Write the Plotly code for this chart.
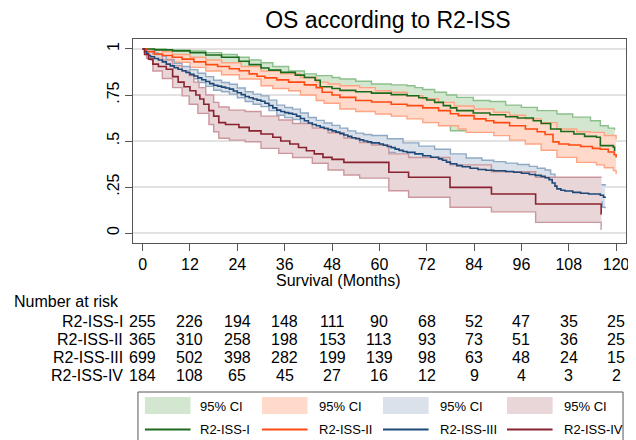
import plotly.graph_objects as go

# ---------------- data ----------------
months = [0, 12, 24, 36, 48, 60, 72, 84, 96, 108, 120]
groups = ["R2-ISS-I", "R2-ISS-II", "R2-ISS-III", "R2-ISS-IV"]

risk_I = [255, 226, 194, 148, 111, 90, 68, 52, 47, 35, 25]
risk_II = [365, 310, 258, 198, 153, 113, 93, 73, 51, 36, 25]
risk_III = [699, 502, 398, 282, 199, 139, 98, 63, 48, 24, 15]
risk_IV = [184, 108, 65, 45, 27, 16, 12, 9, 4, 3, 2]

# R2-ISS-I
t_I = [0, 3, 7.6, 12, 16, 20, 24.4, 27, 30, 32, 35, 38.7, 41, 43.7, 45, 48, 50, 54, 58, 63, 67, 70, 72, 74, 76.2,
       78, 79.6, 83.8, 88, 92, 95, 99, 101, 103.4, 106, 109.3, 112, 115, 116, 119.3, 119.6]
s_I = [1, 0.995, 0.99, 0.98, 0.967, 0.955, 0.933, 0.915, 0.897, 0.885, 0.873, 0.858, 0.845, 0.83, 0.795, 0.785,
       0.775, 0.768, 0.76, 0.752, 0.746, 0.735, 0.723, 0.71, 0.692, 0.68, 0.665, 0.652, 0.643, 0.632, 0.625, 0.61,
       0.595, 0.565, 0.552, 0.538, 0.525, 0.52, 0.475, 0.466, 0.445]
hi_t_I = [0, 6, 12, 16, 20, 24, 27, 30, 33, 37, 41, 44, 48, 50, 54, 58, 63, 67, 69, 71, 74, 77, 79.6, 83.8, 88, 92,
          96, 100, 105, 109, 113.5, 116, 118, 119.6]
hi_I = [1, 0.995, 0.99, 0.98, 0.97, 0.955, 0.94, 0.925, 0.905, 0.88, 0.865, 0.855, 0.845, 0.837, 0.825, 0.81, 0.805,
        0.8, 0.79, 0.78, 0.765, 0.75, 0.737, 0.72, 0.715, 0.695, 0.683, 0.665, 0.647, 0.63, 0.61, 0.583, 0.57, 0.56]
lo_t_I = [0, 3, 7.5, 12, 16, 20, 25, 30, 35, 40, 45, 50, 55, 60, 65, 70, 75, 78, 86, 90, 95, 100, 104, 108, 112,
          116, 119.6]
lo_I = [1, 0.985, 0.965, 0.95, 0.935, 0.92, 0.895, 0.86, 0.83, 0.8, 0.75, 0.73, 0.72, 0.705, 0.69, 0.66, 0.62, 0.556,
        0.548, 0.535, 0.515, 0.49, 0.47, 0.44, 0.42, 0.39, 0.37]

# R2-ISS-II
t_II = [0, 1, 3, 5, 7.5, 10, 13, 16, 19, 22, 24.5, 27, 29, 31, 34, 37, 41, 44, 45.5, 48, 50, 54, 58, 63, 67, 71, 75,
        78, 80, 84, 87, 89, 93, 97, 100, 102, 104, 105.5, 108, 111, 114, 116, 118, 119.5, 120]
s_II = [1, 0.985, 0.973, 0.965, 0.955, 0.945, 0.93, 0.915, 0.905, 0.893, 0.882, 0.865, 0.852, 0.843, 0.832, 0.82,
        0.805, 0.79, 0.765, 0.75, 0.737, 0.72, 0.712, 0.7, 0.692, 0.68, 0.665, 0.648, 0.638, 0.62, 0.61, 0.6, 0.583,
        0.565, 0.55, 0.535, 0.495, 0.484, 0.478, 0.47, 0.46, 0.455, 0.44, 0.425, 0.41]
hi_t_II = [0, 2, 5, 7.5, 12, 16, 20, 25, 30, 35, 40, 44, 47, 50, 55, 59, 63, 67, 71, 75, 79, 84, 89, 93, 97, 101,
           105, 110, 113.5, 117, 120]
hi_II = [1, 0.995, 0.985, 0.97, 0.955, 0.94, 0.925, 0.905, 0.88, 0.865, 0.845, 0.82, 0.81, 0.8, 0.79, 0.773, 0.765,
         0.746, 0.73, 0.71, 0.69, 0.674, 0.656, 0.64, 0.62, 0.6, 0.565, 0.55, 0.547, 0.53, 0.51]
lo_t_II = [0, 2, 5, 7.5, 12, 16, 20, 24.5, 30, 33, 37, 40, 44, 46, 50, 54, 59, 63, 67, 71, 75, 80, 82, 89, 93, 97,
           101, 105, 110, 115, 117, 119.3, 120]
lo_II = [1, 0.97, 0.945, 0.928, 0.9, 0.88, 0.86, 0.837, 0.8, 0.785, 0.773, 0.75, 0.72, 0.705, 0.674, 0.66, 0.647,
         0.635, 0.62, 0.6, 0.583, 0.565, 0.547, 0.529, 0.505, 0.484, 0.45, 0.411, 0.384, 0.37, 0.355, 0.339, 0.32]

# R2-ISS-III
t_III = [0, 0.5, 1, 1.5, 2, 3, 4, 5, 6, 7, 8, 9, 10, 11, 12, 13, 14, 15, 16, 17, 18, 19, 20, 21, 22, 23, 24, 25, 26,
         27, 28, 29, 30, 31, 32, 33, 34, 35, 36, 37, 38, 39, 40, 41, 42, 43, 44, 45, 46, 47, 48, 49, 50, 51, 52, 53,
         54, 55, 56, 57, 58, 60, 61, 62, 63, 64, 65, 66, 67, 69, 71, 73, 75, 76, 77, 78, 79.6, 81, 83, 85, 87, 89,
         92, 94, 96, 98, 99.5, 101, 102, 103, 103.8, 104.5, 105, 106, 107, 109, 111, 113, 116, 116.8, 117.2]
s_III = [1, 0.985, 0.975, 0.965, 0.958, 0.948, 0.94, 0.93, 0.918, 0.908, 0.898, 0.89, 0.882, 0.872, 0.862, 0.853,
         0.843, 0.833, 0.823, 0.812, 0.803, 0.798, 0.793, 0.788, 0.782, 0.772, 0.762, 0.752, 0.742, 0.735, 0.728,
         0.722, 0.716, 0.705, 0.693, 0.68, 0.668, 0.66, 0.654, 0.65, 0.645, 0.635, 0.622, 0.61, 0.598, 0.59, 0.583,
         0.575, 0.568, 0.562, 0.555, 0.548, 0.54, 0.533, 0.525, 0.518, 0.512, 0.506, 0.5, 0.495, 0.49, 0.484, 0.477,
         0.47, 0.464, 0.456, 0.449, 0.443, 0.438, 0.43, 0.42, 0.412, 0.403, 0.395, 0.385, 0.376, 0.366, 0.36, 0.352,
         0.345, 0.341, 0.338, 0.334, 0.33, 0.325, 0.318, 0.313, 0.308, 0.3, 0.29, 0.272, 0.255, 0.24, 0.232, 0.228,
         0.221, 0.216, 0.212, 0.205, 0.194, 0.19]
hi_t_III = [0, 1, 2, 4, 6, 8, 10, 12, 14, 16, 18, 20, 22, 24, 26, 28, 30, 32, 34, 36, 38, 40, 42, 44, 46, 48, 50,
            52, 54, 56, 58, 62, 66, 70, 74, 78, 82, 86, 89, 92, 95, 98, 100, 102, 103.4, 104.5, 108, 112, 117.2]
hi_III = [1, 0.99, 0.978, 0.962, 0.942, 0.922, 0.905, 0.888, 0.868, 0.85, 0.83, 0.818, 0.808, 0.788, 0.768, 0.755,
          0.745, 0.722, 0.695, 0.682, 0.673, 0.652, 0.628, 0.612, 0.598, 0.585, 0.57, 0.555, 0.543, 0.535, 0.53,
          0.512, 0.49, 0.472, 0.455, 0.43, 0.408, 0.395, 0.388, 0.38, 0.372, 0.362, 0.352, 0.342, 0.32, 0.29, 0.272,
          0.262, 0.255]
lo_t_III = [0, 1, 2, 4, 6, 8, 10, 12, 14, 16, 18, 20, 22, 24, 26, 28, 30, 32, 34, 36, 38, 40, 42, 44, 46, 48, 50,
            52, 54, 56, 58, 60, 62, 64, 66, 68, 70, 72, 74, 76, 78, 80, 82, 84, 86, 89, 92, 95, 98, 100, 102, 103.4,
            104.5, 108, 112, 116.5, 117.2]
lo_III = [1, 0.96, 0.94, 0.918, 0.895, 0.873, 0.858, 0.838, 0.818, 0.797, 0.776, 0.768, 0.755, 0.735, 0.715, 0.7,
          0.687, 0.665, 0.64, 0.627, 0.617, 0.593, 0.568, 0.553, 0.538, 0.525, 0.51, 0.495, 0.482, 0.47, 0.458,
          0.452, 0.438, 0.424, 0.41, 0.4, 0.39, 0.38, 0.372, 0.362, 0.345, 0.332, 0.322, 0.315, 0.308, 0.303, 0.298,
          0.29, 0.282, 0.275, 0.265, 0.25, 0.21, 0.185, 0.17, 0.14, 0.135]

# R2-ISS-IV
t_IV = [0, 0.5, 1.5, 2.6, 4, 6, 7.6, 9, 10.5, 12, 13.5, 14.5, 15.5, 16.8, 18, 19.3, 21, 24.4, 27, 30, 33, 35, 37.3,
        39.5, 41.5, 43.5, 45.7, 48, 51, 62.4, 67.4, 77.9, 88.4, 99.6, 116.2, 116.3]
s_IV = [1, 0.97, 0.945, 0.918, 0.905, 0.89, 0.85, 0.82, 0.795, 0.773, 0.75, 0.728, 0.7, 0.665, 0.635, 0.6, 0.59,
        0.574, 0.555, 0.538, 0.52, 0.5, 0.484, 0.465, 0.447, 0.43, 0.411, 0.4, 0.384, 0.33, 0.303, 0.248, 0.212,
        0.158, 0.103, 0.103]
hi_t_IV = [0, 1, 2.6, 5, 7.6, 10, 11.8, 13, 14.3, 16, 18, 19.3, 21.9, 26, 30, 34.5, 38, 43, 47, 51, 55, 58, 62.4,
           67.4, 77.9, 88.4, 99.6, 116.3]
hi_IV = [1, 0.995, 0.97, 0.94, 0.909, 0.88, 0.855, 0.82, 0.79, 0.75, 0.71, 0.685, 0.668, 0.66, 0.635, 0.614, 0.595,
         0.57, 0.545, 0.516, 0.492, 0.478, 0.43, 0.41, 0.37, 0.333, 0.303, 0.303]
lo_t_IV = [0, 1, 2.6, 5, 7.6, 10, 11.8, 14, 16.8, 18, 19.3, 22, 26, 30, 34.5, 38, 43, 47, 51, 55, 62.4, 67.4,
           77.9, 88.4, 99.6, 116.2, 116.3]
lo_IV = [1, 0.95, 0.88, 0.84, 0.79, 0.745, 0.7, 0.65, 0.59, 0.55, 0.515, 0.505, 0.496, 0.46, 0.433, 0.41, 0.379,
         0.342, 0.315, 0.298, 0.23, 0.194, 0.14, 0.115, 0.058, 0.02, 0.02]

y_ticks = [0, 0.25, 0.5, 0.75, 1]
y_tick_labels = ["0", ".25", ".5", ".75", "1"]

# ---------------- style ----------------
FONT = "Liberation Sans, Arial, sans-serif"
main_col = ["#1c6b1c", "#ff4b12", "#1d4877", "#8a2331"]
edge_col = ["#8cc08a", "#ffa483", "#8fa9c4", "#cb979d"]
fill_col = ["#d3e7d0", "#ffdacb", "#dae1ea", "#e9d6d9"]

# page body has an 8px margin: figure drawn at (8, 8) in the window
OFF = 8
W, H = 636 - OFF, 440 - OFF
# plot area edges in window pixels
L, R, T, B = 133, 630, 39, 243


def px(x):
    return (x - L) / (R - L)


def py(y):
    return (B - y) / (B - T)


series = [
    (t_I, s_I, hi_t_I, hi_I, lo_t_I, lo_I),
    (t_II, s_II, hi_t_II, hi_II, lo_t_II, lo_II),
    (t_III, s_III, hi_t_III, hi_III, lo_t_III, lo_III),
    (t_IV, s_IV, hi_t_IV, hi_IV, lo_t_IV, lo_IV),
]
risks = [risk_I, risk_II, risk_III, risk_IV]

fig = go.Figure()

for i, (t, s, ht, hv, lt, lv) in enumerate(series):
    fig.add_trace(go.Scatter(x=lt, y=lv, mode="lines", line=dict(color=edge_col[i], width=1.4, shape="hv"),
                             showlegend=False, hoverinfo="skip"))
    fig.add_trace(go.Scatter(x=ht, y=hv, mode="lines", line=dict(color=edge_col[i], width=1.4, shape="hv"),
                             fill="tonexty", fillcolor=fill_col[i], showlegend=False, hoverinfo="skip"))

for i, (t, s, ht, hv, lt, lv) in enumerate(series):
    fig.add_trace(go.Scatter(x=t, y=s, mode="lines", line=dict(color=main_col[i], width=1.6, shape="hv"),
                             name=groups[i], showlegend=False))

annotations = []
# x-axis title
annotations.append(dict(x=px(340), y=py(280), xref="paper", yref="paper", text="Survival (Months)",
                        showarrow=False, font=dict(family=FONT, size=16, color="black"),
                        xanchor="center", yanchor="middle"))
# risk table
annotations.append(dict(x=px(11), y=py(301), xref="paper", yref="paper", text="Number at risk",
                        showarrow=False, font=dict(family=FONT, size=16, color="black"),
                        xanchor="left", yanchor="middle"))
row_y = [321, 339, 357, 375]
for i, g in enumerate(groups):
    annotations.append(dict(x=px(125), y=py(row_y[i]), xref="paper", yref="paper", text=g, showarrow=False,
                            font=dict(family=FONT, size=16, color="black"), xanchor="right", yanchor="middle"))
    for m, n in zip(months, risks[i]):
        annotations.append(dict(x=m, y=py(row_y[i]), xref="x", yref="paper", text=str(n), showarrow=False,
                                font=dict(family=FONT, size=16, color="black"), xanchor="center",
                                yanchor="middle"))

# legend (drawn manually, Stata style)
shapes = [dict(type="rect", xref="paper", yref="paper", x0=px(138), x1=px(627), y0=py(392), y1=py(446),
               line=dict(color="#555555", width=1), fillcolor="white", layer="above")]
sw_x = [145, 263, 385, 510]
tx_x = [199, 318, 440, 565]
for i, g in enumerate(groups):
    shapes.append(dict(type="rect", xref="paper", yref="paper", x0=px(sw_x[i]), x1=px(sw_x[i] + 46),
                       y0=py(414), y1=py(397), line=dict(width=0), fillcolor=fill_col[i], layer="above"))
    shapes.append(dict(type="line", xref="paper", yref="paper", x0=px(sw_x[i]), x1=px(sw_x[i] + 46),
                       y0=py(429.5), y1=py(429.5), line=dict(color=main_col[i], width=2), layer="above"))
    annotations.append(dict(x=px(tx_x[i]), y=py(406), xref="paper", yref="paper", text="95% CI", showarrow=False,
                            font=dict(family=FONT, size=13, color="black"), xanchor="left", yanchor="middle"))
    annotations.append(dict(x=px(tx_x[i]), y=py(430), xref="paper", yref="paper", text=g, showarrow=False,
                            font=dict(family=FONT, size=13, color="black"), xanchor="left", yanchor="middle"))

fig.update_layout(
    width=W, height=H,
    margin=dict(l=L - OFF, r=W - (R - OFF), t=T - OFF, b=H - (B - OFF), pad=0),
    plot_bgcolor="white", paper_bgcolor="white",
    showlegend=False,
    title=dict(text="OS according to R2-ISS", x=px(390), xref="paper", xanchor="center",
               y=1 - (20 - OFF) / H, yref="container", yanchor="middle",
               font=dict(family=FONT, size=23, color="black")),
    xaxis=dict(range=[-2.44, 122.5], tickvals=months, ticks="outside", ticklen=7, tickwidth=1, tickcolor="#555555",
               showline=True, mirror=True, linecolor="#555555", linewidth=1.2, showgrid=False, zeroline=False,
               tickfont=dict(family=FONT, size=16, color="black")),
    yaxis=dict(range=[-0.0543, 1.0543], tickvals=y_ticks, ticktext=y_tick_labels, tickangle=-90,
               ticks="outside", ticklen=7, tickwidth=1, tickcolor="#555555", showline=True, mirror=True,
               linecolor="#555555", linewidth=1.2, showgrid=True, gridcolor="#e2e2e2", gridwidth=1.5,
               zeroline=False, tickfont=dict(family=FONT, size=16, color="black")),
    annotations=annotations,
    shapes=shapes,
)

fig.write_html("out.html")
